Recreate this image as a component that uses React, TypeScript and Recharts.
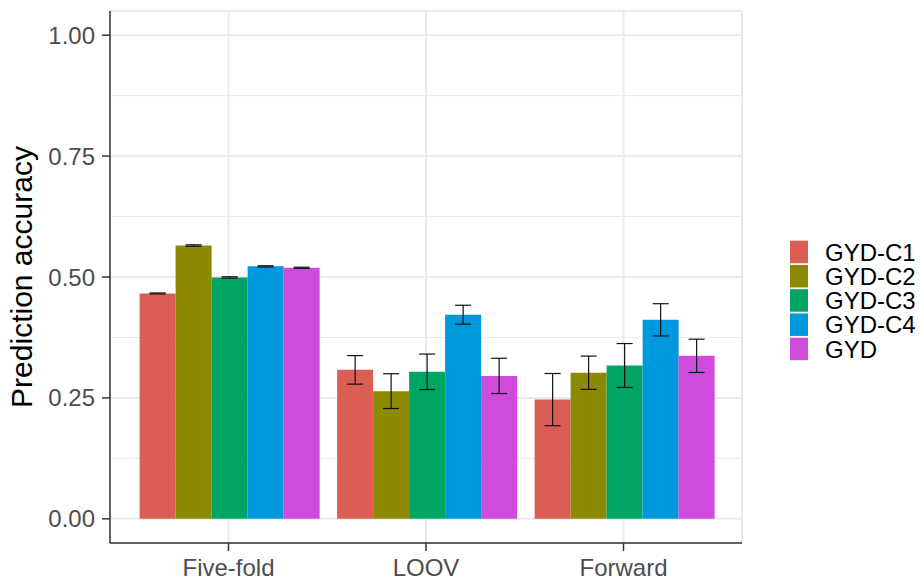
import React from 'react';
import { BarChart, Bar, XAxis, YAxis, CartesianGrid, ErrorBar } from 'recharts';

// ---------- data ----------
const methods = ['Five-fold', 'LOOV', 'Forward'];
const seriesNames = ['GYD-C1', 'GYD-C2', 'GYD-C3', 'GYD-C4', 'GYD'];
const seriesKeys = ['c1', 'c2', 'c3', 'c4', 'gyd'];
const seriesColors = ['#DB5E54', '#8B8A00', '#00A463', '#0098DC', '#CE4BDB'];

const gydC1 = [0.466, 0.308, 0.2465];
const gydC2 = [0.565, 0.264, 0.302];
const gydC3 = [0.499, 0.304, 0.317];
const gydC4 = [0.522, 0.422, 0.4115];
const gyd = [0.519, 0.2955, 0.337];

const gydC1Err = [0.001, 0.0295, 0.054];
const gydC2Err = [0.0015, 0.036, 0.0345];
const gydC3Err = [0.0015, 0.0367, 0.0454];
const gydC4Err = [0.0012, 0.0196, 0.0333];
const gydErr = [0.0012, 0.0365, 0.0344];

const yTicks = [0, 0.25, 0.5, 0.75, 1];
const yMinorTicks = [0.125, 0.375, 0.625, 0.875];
const yDomain: [number, number] = [-0.05, 1.05];

const seriesValues = [gydC1, gydC2, gydC3, gydC4, gyd];
const seriesErrors = [gydC1Err, gydC2Err, gydC3Err, gydC4Err, gydErr];

const data = methods.map((m, i) => {
  const row: Record<string, any> = { method: m };
  seriesKeys.forEach((k, s) => {
    row[k] = seriesValues[s][i];
    row[k + 'Err'] = seriesErrors[s][i];
  });
  return row;
});

// ---------- styles ----------
const FONT = '"Liberation Sans", Arial, Helvetica, sans-serif';
const W = 921;
const H = 578;
const BORDER = { stroke: '#333333', strokeWidth: 1.5 };

const minorGen = (props: any) => {
  const s = props?.yAxis?.scale;
  const off = props?.offset;
  return yMinorTicks.map((v) =>
    typeof s === 'function'
      ? s(v)
      : off.top + (off.height * (yDomain[1] - v)) / (yDomain[1] - yDomain[0])
  );
};

const YTitle = (props: any) => {
  const vb = props.viewBox || {};
  const cx = (vb.x || 0) + 21;
  const cy = (vb.y || 0) + (vb.height || 0) / 2;
  return (
    <text
      transform={`translate(${cx},${cy}) rotate(-90)`}
      textAnchor="middle"
      dy="0.355em"
      fontSize={30}
      fontFamily={FONT}
      fill="#000000"
    >
      Prediction accuracy
    </text>
  );
};

const Legend = () => (
  <svg
    width={141}
    height={140}
    style={{ position: 'absolute', left: 780, top: 230, overflow: 'visible' }}
  >
    {seriesNames.map((n, i) => {
      const y = 10.7 + i * 24.25;
      return (
        <g key={n}>
          <rect x={10} y={y} width={18} height={22.5} fill={seriesColors[i]} />
          <text
            x={45}
            y={y + 11.25}
            dy="0.358em"
            fontSize={24}
            fontFamily={FONT}
            fill="#000000"
          >
            {n}
          </text>
        </g>
      );
    })}
  </svg>
);

export default function App() {
  return (
    <div style={{ position: 'absolute', left: 0, top: 0, width: W, height: H, background: '#fff' }}>
      <BarChart
        width={W}
        height={H}
        data={data}
        margin={{ top: 11, right: 179, bottom: 0, left: 0 }}
        barCategoryGap="5%"
        barGap={0}
        style={{ fontFamily: FONT }}
      >
        <CartesianGrid
          vertical={false}
          horizontalCoordinatesGenerator={minorGen}
          stroke="#EBEBEB"
          strokeWidth={1}
        />
        <CartesianGrid stroke="#EBEBEB" strokeWidth={2} />
        <XAxis
          dataKey="method"
          type="category"
          padding={{ left: 19.75, right: 19.75 }}
          height={35}
          tickSize={8}
          tickMargin={8}
          tickLine={BORDER}
          axisLine={BORDER}
          tick={{ fontSize: 24, fill: '#4D4D4D', fontFamily: FONT }}
          interval={0}
        />
        <XAxis
          xAxisId="top"
          dataKey="method"
          orientation="top"
          height={0}
          tick={false}
          tickLine={false}
          axisLine={BORDER}
          padding={{ left: 19.75, right: 19.75 }}
        />
        <YAxis
          type="number"
          domain={yDomain}
          ticks={yTicks}
          width={110}
          tickSize={8}
          tickMargin={7}
          tickLine={BORDER}
          axisLine={BORDER}
          tickFormatter={(v: number) => v.toFixed(2)}
          tick={{ fontSize: 24, fill: '#4D4D4D', fontFamily: FONT }}
          allowDataOverflow
          label={<YTitle />}
        />
        <YAxis
          yAxisId="right"
          orientation="right"
          type="number"
          domain={yDomain}
          width={0}
          tick={false}
          tickLine={false}
          axisLine={BORDER}
          allowDataOverflow
        />
        {seriesKeys.map((k, i) => (
          <Bar key={k} dataKey={k} name={seriesNames[i]} fill={seriesColors[i]} isAnimationActive={false}>
            <ErrorBar dataKey={k + 'Err'} width={8} stroke="#111111" strokeWidth={1.2} direction="y" />
          </Bar>
        ))}
      </BarChart>
      <Legend />
    </div>
  );
}
